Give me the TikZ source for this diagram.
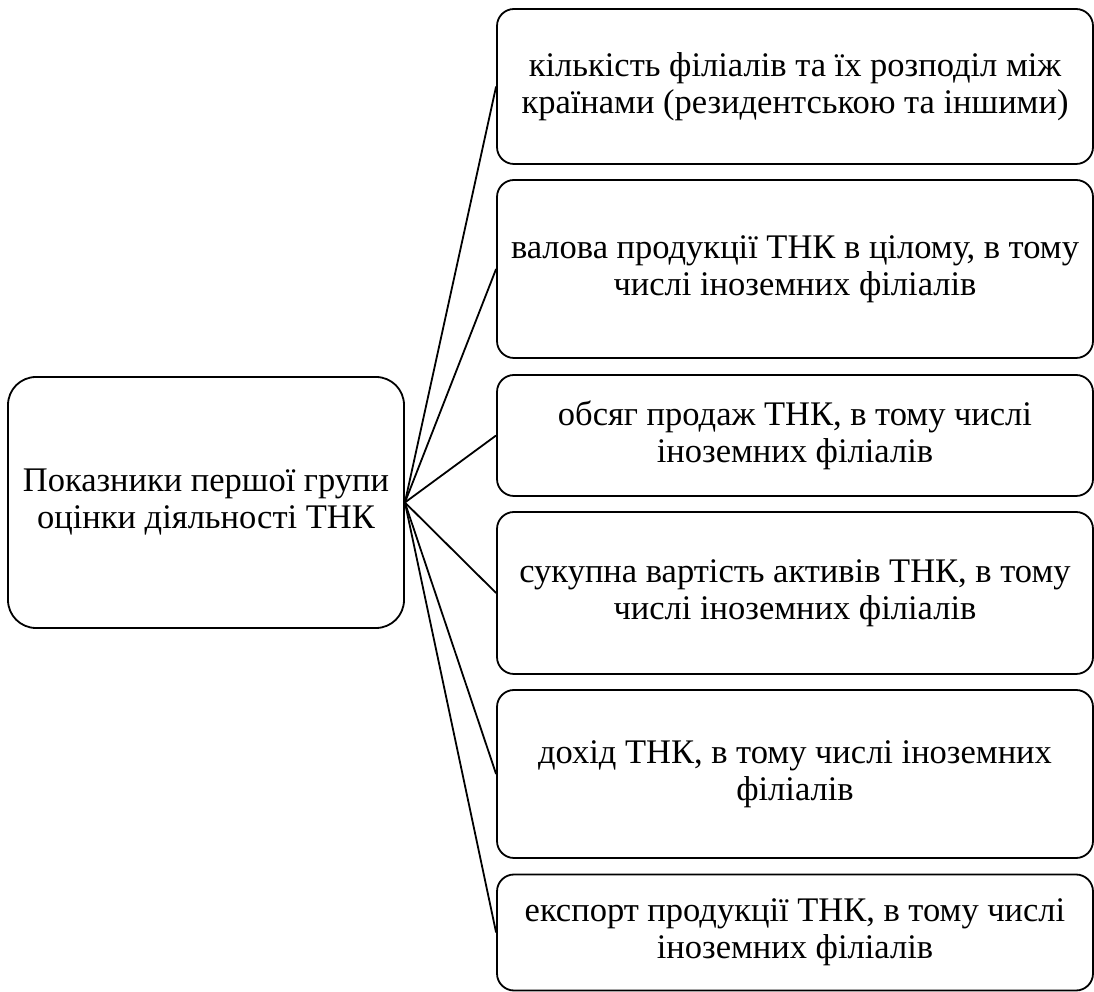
\documentclass[tikz,border=0pt]{standalone}
\usepackage{fontspec}
\setmainfont{Liberation Serif}
\begin{document}
\begin{tikzpicture}[x=1pt,y=1pt,
  box/.style={draw=black, line width=1.8pt, align=center, inner sep=0pt, font=\fontsize{34.5}{37}\selectfont},
  lbox/.style={box, rounded corners=28pt, minimum width=396pt, minimum height=251pt},
  rbox/.style={box, rounded corners=17pt, minimum width=596pt},
  conn/.style={line width=1.8pt}]
\useasboundingbox (0,0) rectangle (1094,992);
\node[lbox] (L) at (206,489.5) {Показники першої групи\\оцінки діяльності ТНК};
\node[rbox, minimum height=155pt] (B1) at (795,905.5) {кількість філіалів та їх розподіл між\\країнами (резидентською та іншими)};
\node[rbox, minimum height=178pt] (B2) at (795,723) {валова продукції ТНК в цілому, в тому\\числі іноземних філіалів};
\node[rbox, minimum height=121pt] (B3) at (795,556.5) {обсяг продаж ТНК, в тому числі\\іноземних філіалів};
\node[rbox, minimum height=162pt] (B4) at (795,399) {сукупна вартість активів ТНК, в тому\\числі іноземних філіалів};
\node[rbox, minimum height=168pt] (B5) at (795,218) {дохід ТНК, в тому числі іноземних\\філіалів};
\node[rbox, minimum height=116pt] (B6) at (795,59.5) {експорт продукції ТНК, в тому числі\\іноземних філіалів};
\foreach \b in {B1,B2,B3,B4,B5,B6} \draw[conn] (L.east) -- (\b.west);
\end{tikzpicture}
\end{document}
